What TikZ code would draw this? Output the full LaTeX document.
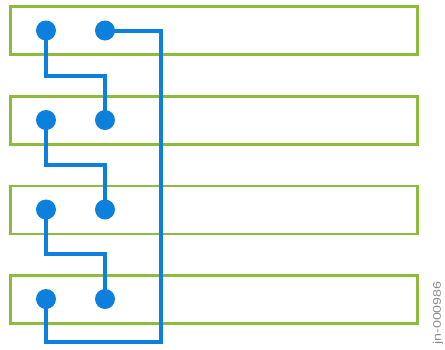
\documentclass[tikz,border=0pt]{standalone}
\usepackage{fontspec}
\setmainfont{Liberation Sans}
\definecolor{wblue}{RGB}{12,128,220}
\definecolor{bgreen}{RGB}{140,187,62}
\definecolor{lbl}{RGB}{140,140,140}
\begin{document}
\begin{tikzpicture}[x=1pt,y=-1pt,
  board/.style={draw=bgreen,line width=2.6pt,minimum width=407pt,minimum height=48pt,inner sep=0pt,anchor=north west},
  dot/.style={circle,fill=wblue,minimum size=20pt,inner sep=0pt},
  wire/.style={draw=wblue,line width=4pt,line join=miter}]
\useasboundingbox (0,0) rectangle (445,349);
\foreach \i/\y in {1/5,2/95,3/184.5,4/274}{
  \node[board] (B\i) at (9,\y) {};
}
\foreach \i/\y in {1/30.5,2/120,3/209.5,4/299}{
  \node[dot] (L\i) at (46,\y) {};
  \node[dot] (R\i) at (105,\y) {};
}
\coordinate (M1) at (75,76);
\coordinate (M2) at (75,165);
\coordinate (M3) at (75,254);
\coordinate (BL) at (46,342);
\coordinate (BR) at (161,342);
\draw[wire] (L1.center) |- (M1) -| (R2.center);
\draw[wire] (L2.center) |- (M2) -| (R3.center);
\draw[wire] (L3.center) |- (M3) -| (R4.center);
\draw[wire] (L4.center) -- (BL) -- (BR) |- (R1.center);
\node[lbl,rotate=90,font=\fontsize{11}{13}\selectfont,inner sep=0pt] (id) at (438,313) {\scalebox{1.3}[1]{jn-000986}};
\end{tikzpicture}
\end{document}
